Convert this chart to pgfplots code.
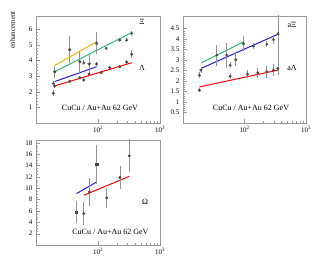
\documentclass[border=0pt]{standalone}
\usepackage{pgfplots}
\pgfplotsset{compat=1.18}
\usepackage{fontspec}
\setmainfont{Liberation Serif}
\definecolor{cyel}{RGB}{240,180,0}
\definecolor{cgre}{RGB}{50,180,120}
\definecolor{cblu}{RGB}{40,30,200}
\definecolor{cred}{RGB}{255,0,0}
\definecolor{cmark}{RGB}{70,70,70}
\pgfkeys{/pgf/number format/assume math mode=true}
\pgfplotsset{
  rootax/.style={
    scale only axis, xmin=10, xmax=1000,
    axis line style={gray!80, line width=0.5pt},
    tick align=inside, xtick pos=bottom, ytick pos=left,
    major tick length=4pt, minor tick length=2pt,
    tick style={gray!80},
    xtick={100,1000}, xticklabels={10\textsuperscript{2},10\textsuperscript{3}},
    tick label style={font=\fontsize{7}{8}\selectfont},
  },
  errs/.style={only marks, mark size=1.25pt, color=cmark,
    error bars/y dir=both, error bars/y explicit, error bars/error mark=none,
    error bars/error bar style={gray!85, line width=0.9pt}},
  theo/.style={line width=1pt, no marks},
}
\begin{document}
\begin{tikzpicture}
\path[use as bounding box] (0,0) rectangle (324pt,280pt);
% Panel 1
\begin{semilogxaxis}[rootax, at={(36pt,157pt)}, anchor=south west, width=124pt, height=107pt,
  ymin=0, ymax=6.85, ytick={1,2,3,4,5,6}, minor y tick num=4,
  ylabel={enhancement}, ylabel style={at={(rel axis cs:-0.19,0.87)}, anchor=center, font=\fontsize{7}{8}\selectfont}]
\addplot[theo, cyel] coordinates {(20,3.68) (51,4.6) (95,5.2)};
\addplot[theo, cgre] coordinates {(20,3.28) (350,5.79)};
\addplot[theo, cblu] coordinates {(20,2.65) (95,3.6)};
\addplot[theo, cred] coordinates {(20,2.37) (350,3.86)};
\addplot[errs, mark=star, mark size=1.6pt, mark options={line width=0.8pt}] table[y error=e] {
x y e
20 3.28 0.4
35 4.7 0.85
51 3.93 0.7
72 3.78 0.55
95 5.1 0.7
};
\addplot[errs, mark=triangle*, mark size=1.4pt] table[y error=e] {
x y e
19 2.54 0.15
59 3.86 0.15
135 4.78 0.1
225 5.32 0.15
290 5.32 0.15
350 5.74 0.15
};
\addplot[errs, mark=*] table[y error=e] {
x y e
19 1.9 0.2
20 2.37 0.1
35 2.67 0.1
51 2.9 0.1
59 2.75 0.1
72 3.14 0.15
95 3.78 0.15
112 3.22 0.1
155 3.54 0.1
225 3.6 0.1
290 3.9 0.15
350 4.4 0.25
};
\node[font=\fontsize{8}{9}\selectfont] at (rel axis cs:0.855,0.944) {Ξ};
\node[font=\fontsize{8}{9}\selectfont] at (rel axis cs:0.855,0.514) {Λ};
\node[font=\fontsize{8}{9}\selectfont] at (rel axis cs:0.516,0.14) {CuCu / Au+Au 62 GeV};
\end{semilogxaxis}
% Panel 2
\begin{semilogxaxis}[rootax, at={(183pt,157pt)}, anchor=south west, width=123pt, height=107pt,
  ymin=0, ymax=5.1, ytick={0.5,1,1.5,2,2.5,3,3.5,4,4.5}, minor y tick num=4,
  yticklabels={0.5,1,1.5,2,2.5,3,3.5,4,4.5}]
\addplot[theo, cgre] coordinates {(19.6,2.86) (96,3.86)};
\addplot[theo, cblu] coordinates {(19.6,2.6) (350,4.23)};
\addplot[theo, cred] coordinates {(18.5,1.72) (350,2.52)};
\addplot[errs, mark=star, mark size=1.6pt, mark options={line width=0.8pt}] table[y error=e] {
x y e
19.6 2.52 0.15
51.5 3.23 0.6
72 3.02 0.3
96 3.79 0.35
};
\addplot[errs, mark=triangle*, mark size=1.4pt] table[y error=e] {
x y e
18.5 2.28 0.15
35.4 3.23 0.5
58.4 2.75 0.15
141 3.66 0.15
231 3.75 0.15
296 3.98 0.2
};
\addplot[errs, mark=triangle*, mark size=1.4pt] table[y error plus=ep, y error minus=em] {
x y ep em
350 4.26 1.0 1.5
};
\addplot[errs, mark=*] table[y error=e] {
x y e
18.5 1.56 0.1
58.4 2.23 0.15
112 2.33 0.2
165 2.39 0.25
231 2.44 0.3
296 2.52 0.3
350 2.6 0.3
};
\node[font=\fontsize{8}{9}\selectfont] at (rel axis cs:0.886,0.916) {aΞ};
\node[font=\fontsize{8}{9}\selectfont] at (rel axis cs:0.886,0.514) {aΛ};
\node[font=\fontsize{8}{9}\selectfont] at (rel axis cs:0.553,0.14) {CuCu / Au+Au 62 GeV};
\end{semilogxaxis}
% Panel 3
\begin{semilogxaxis}[rootax, at={(36pt,35pt)}, anchor=south west, width=124pt, height=105pt,
  ymin=0, ymax=18.5, ytick={2,4,6,8,10,12,14,16,18}, minor y tick num=3]
\addplot[theo, cblu] coordinates {(45,9.06) (95,11.1)};
\addplot[theo, cred] coordinates {(59,8.76) (320,12.1)};
\addplot[errs, mark=square*, mark size=1.1pt] table[y error=e] {
x y e
45 5.82 2.0
95 14.2 3.5
};
\addplot[errs, mark=*] table[y error=e] {
x y e
59 5.53 2.0
72.5 9.35 2.5
138 8.3 1.8
226 11.9 2.0
320 15.7 2.9
};
\node[font=\fontsize{8}{9}\selectfont] at (rel axis cs:0.88,0.41) {Ω};
\node[font=\fontsize{8}{9}\selectfont] at (rel axis cs:0.60,0.127) {CuCu / Au+Au 62 GeV};
\end{semilogxaxis}
\end{tikzpicture}
\end{document}
